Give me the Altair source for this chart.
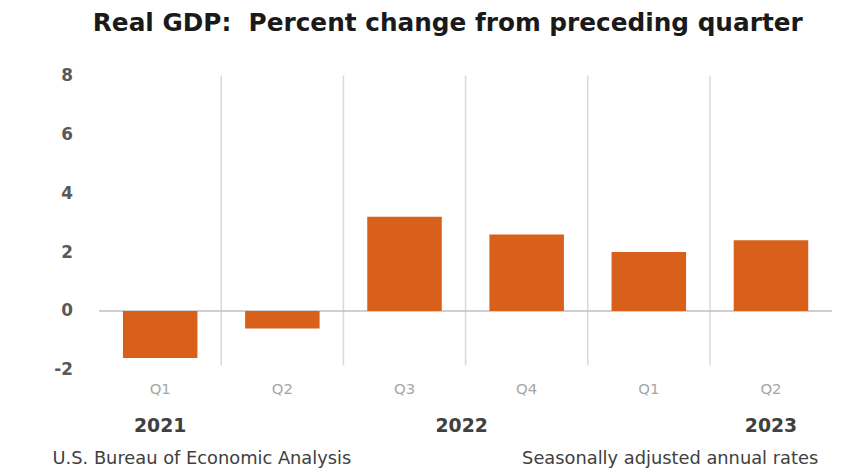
import altair as alt
import pandas as pd

# ---- data ----
periods = ["2022 Q1", "2022 Q2", "2022 Q3", "2022 Q4", "2023 Q1", "2023 Q2"]
values = [-1.6, -0.6, 3.2, 2.6, 2.0, 2.4]
year_labels = ["2021", "2023"]
year_anchor = ["2022 Q1", "2023 Q2"]
mid_year_label = ["2022"]
mid_year_anchor = ["2022 Q4"]
y_ticks = [-2, 0, 2, 4, 6, 8]
title_text = "Real GDP:\u00a0 Percent change from preceding quarter"
source_text = "U.S. Bureau of Economic Analysis"
note_text = "Seasonally adjusted annual rates"

FONT = "DejaVu Sans"
BAR = "#D8601A"

df = pd.DataFrame({"period": periods, "value": values})
sep_df = pd.DataFrame({"period": periods[1:]})
year_df = pd.DataFrame({"period": year_anchor, "label": year_labels})
mid_df = pd.DataFrame({"period": mid_year_anchor, "label": mid_year_label})

xscale = alt.Scale(domain=periods, paddingInner=0, paddingOuter=0)
yscale = alt.Scale(domain=[-2, 8], nice=False)

x_axis = alt.Axis(
    title=None, labelExpr="split(datum.value, ' ')[1]", domain=False, ticks=False,
    labelAngle=0, labelColor="#a6a6a6", labelFont=FONT, labelFontSize=15,
    labelPadding=12, grid=False,
)
y_axis = alt.Axis(
    title=None, values=y_ticks, domain=False, ticks=False, grid=False,
    labelExpr="datum.value + ''",
    labelColor="#595959", labelFont=FONT, labelFontSize=17, labelFontWeight="bold",
    labelPadding=27,
)

separators = alt.Chart(sep_df).mark_rule(color="#d9d9d9", strokeWidth=1.5).encode(
    x=alt.X("period:N", scale=xscale, sort=periods, bandPosition=0, axis=x_axis),
    y=alt.datum(8, scale=yscale, axis=y_axis),
    y2=alt.datum(-1.85),
)

bars = alt.Chart(df).mark_bar(color=BAR, width=alt.RelativeBandSize(0.61)).encode(
    x=alt.X("period:N", scale=xscale, sort=periods),
    y=alt.Y("value:Q", scale=yscale),
)

zero = alt.Chart(pd.DataFrame({"z": [0]})).mark_rule(color="#bfbfbf", strokeWidth=1.5).encode(
    y=alt.Y("z:Q", scale=yscale),
)

years = alt.Chart(year_df).mark_text(
    font=FONT, fontSize=19, fontWeight="bold", color="#404040", baseline="middle"
).encode(
    x=alt.X("period:N", scale=xscale, sort=periods, bandPosition=0.5),
    y=alt.value(354),
    text="label:N",
)

mid_year = alt.Chart(mid_df).mark_text(
    font=FONT, fontSize=19, fontWeight="bold", color="#404040", baseline="middle", dx=-4
).encode(
    x=alt.X("period:N", scale=xscale, sort=periods, bandPosition=0),
    y=alt.value(354),
    text="label:N",
)

source = alt.Chart(pd.DataFrame({"t": [source_text]})).mark_text(
    font=FONT, fontSize=18, color="#404040", align="left", baseline="middle"
).encode(x=alt.value(-47), y=alt.value(387), text="t:N")

note = alt.Chart(pd.DataFrame({"t": [note_text]})).mark_text(
    font=FONT, fontSize=18, color="#404040", align="right", baseline="middle"
).encode(x=alt.value(726), y=alt.value(387), text="t:N")

chart = alt.layer(separators, zero, bars, years, mid_year, source, note).properties(
    width=740,
    height=297,
    autosize=alt.AutoSizeParams(type="none"),
    padding={"left": 92, "top": 66, "right": 6, "bottom": 100},
    background="white",
    title=alt.TitleParams(
        text=title_text, font=FONT, fontSize=25, fontWeight="bold", color="#1a1a1a",
        anchor="middle", dx=-18, offset=31,
    ),
).configure_view(stroke=None)

chart.save("out.html", embed_options={"renderer": "svg", "actions": False})
